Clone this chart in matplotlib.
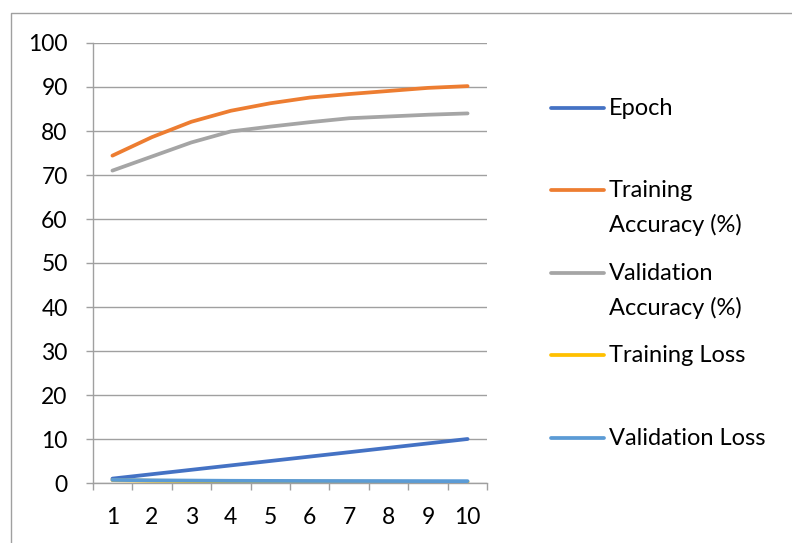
import numpy as np
import matplotlib.pyplot as plt
from matplotlib.lines import Line2D

epochs = [1, 2, 3, 4, 5, 6, 7, 8, 9, 10]
train_acc = [74.4, 78.6, 82.1, 84.6, 86.3, 87.6, 88.4, 89.1, 89.8, 90.2]
val_acc = [71.0, 74.2, 77.4, 79.9, 81.0, 82.0, 82.9, 83.3, 83.7, 84.0]
train_loss = [0.65, 0.52, 0.45, 0.40, 0.36, 0.33, 0.30, 0.28, 0.26, 0.25]
val_loss = [0.70, 0.60, 0.55, 0.50, 0.48, 0.46, 0.45, 0.44, 0.43, 0.42]

labels = ["Epoch", "Training\nAccuracy (%)", "Validation\nAccuracy (%)",
          "Training Loss", "Validation Loss"]
colors = ["#4472C4", "#ED7D31", "#A5A5A5", "#FFC000", "#5B9BD5"]
series = [epochs, train_acc, val_acc, train_loss, val_loss]

plt.rcParams['font.family'] = ['Lato', 'DejaVu Sans']
W, H = 792, 543
fig = plt.figure(figsize=(W / 100, H / 100), dpi=100)
ax = fig.add_axes([92.7 / W, 1 - 483 / H, (487.3 - 92.7) / W, (483 - 43) / H])

grid_c = "#a0a0a0"
for ys, c in zip(series, colors):
    ax.plot(epochs, ys, color=c, lw=2.7, solid_capstyle='round', zorder=3)

ax.set_xlim(0.5, 10.5)
ax.set_ylim(0, 100)
ax.set_yticks(np.arange(0, 101, 10))
ax.set_xticks(epochs)
ax.set_xticks(np.arange(0.5, 11, 1), minor=True)
ax.yaxis.grid(True, color=grid_c, lw=1)
ax.set_axisbelow(True)
for s in ['top', 'right']:
    ax.spines[s].set_visible(False)
for s in ['left', 'bottom']:
    ax.spines[s].set_color(grid_c)
    ax.spines[s].set_linewidth(1)
ax.tick_params(axis='y', length=5, width=1, color=grid_c, pad=13, labelsize=16.5)
ax.tick_params(axis='x', which='major', length=0, pad=17, labelsize=16.5)
ax.tick_params(axis='x', which='minor', length=5, width=1, color=grid_c)

# legend on the right, drawn by hand in pixel positions
leg_y = [108, 190, 273, 355, 438]
for lab, c, y in zip(labels, colors, leg_y):
    yf = 1 - y / H
    fig.add_artist(Line2D([551 / W, 604 / W], [yf, yf], color=c, lw=2.7,
                          solid_capstyle='round', transform=fig.transFigure))
    fig.text(609 / W, yf + 10 / H, lab, fontsize=17, va='top', ha='left',
             linespacing=1.7)

# chart frame
fig.add_artist(Line2D([10.5 / W, 10.5 / W, 1.0], [0, 1 - 13 / H, 1 - 13 / H],
                      color=grid_c, lw=1, transform=fig.transFigure))

fig.savefig("out.png", dpi=100)
